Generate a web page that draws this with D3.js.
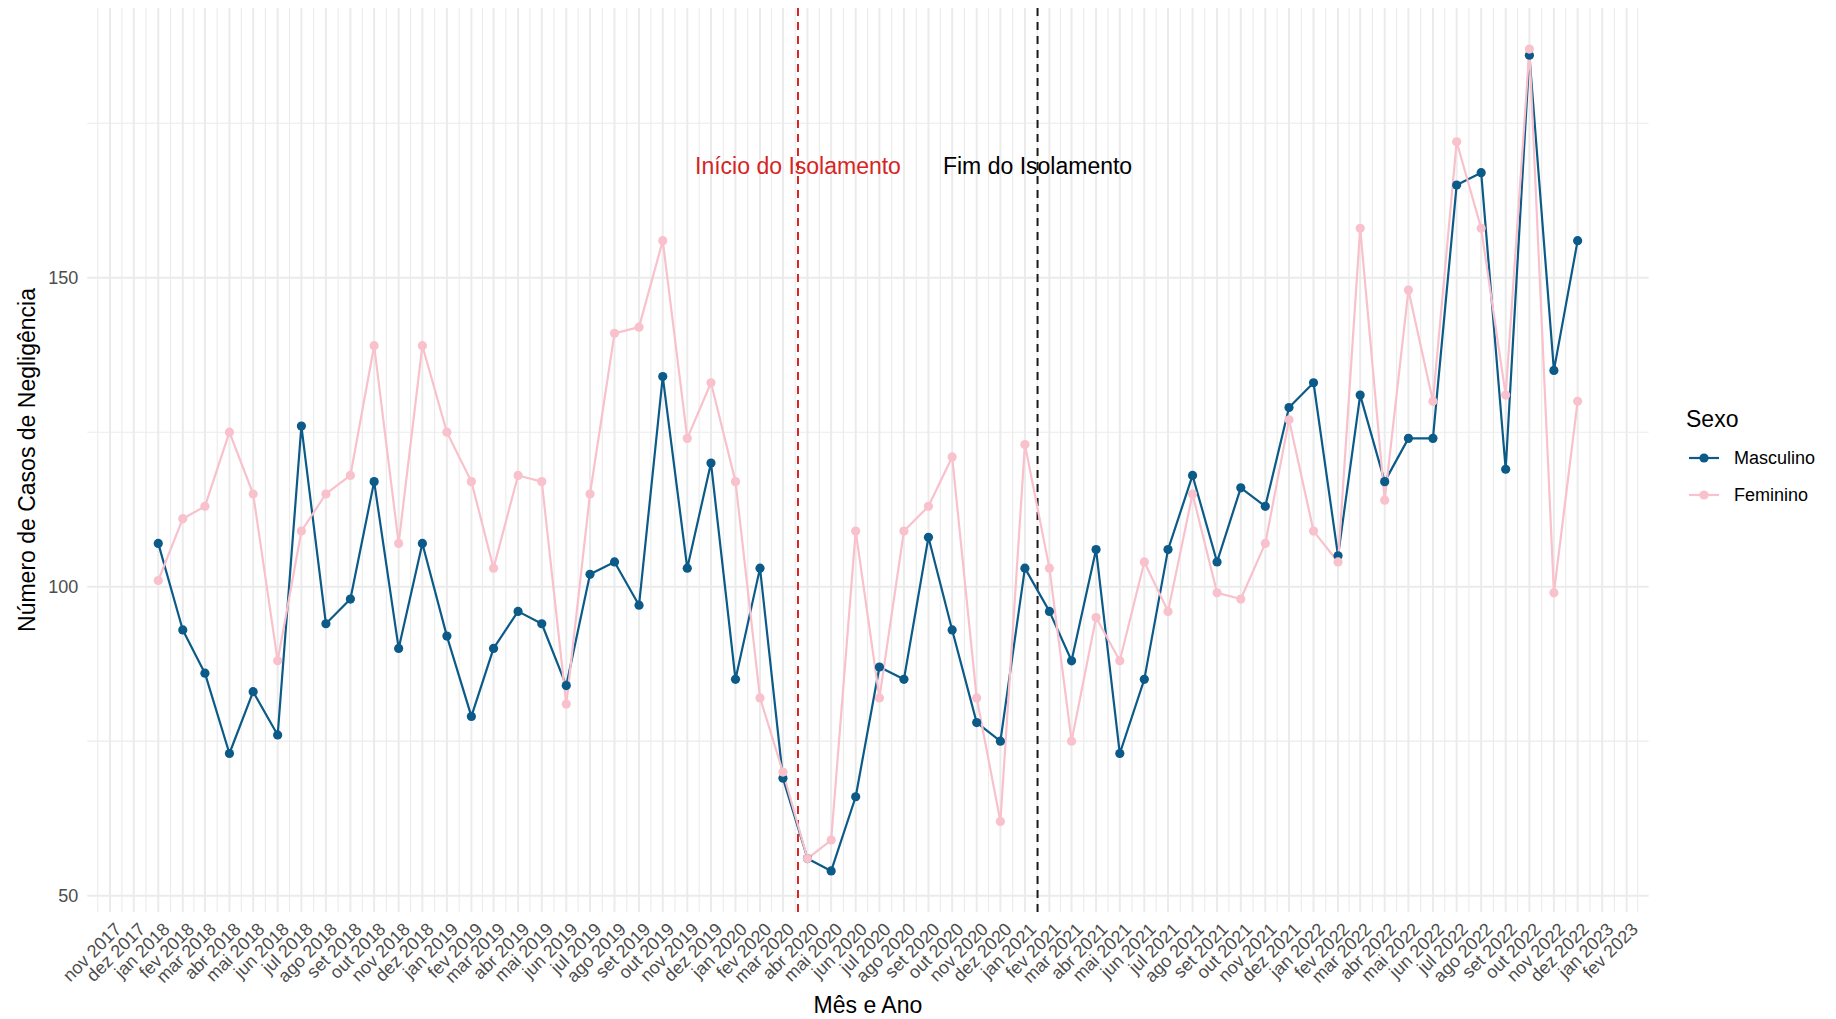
<!DOCTYPE html>
<html>
<head>
<meta charset="utf-8">
<script src="https://d3js.org/d3.v7.min.js"></script>
<style>
  body { margin: 0; background: #fff; }
  text { font-family: "Liberation Sans", Arial, sans-serif; }
</style>
</head>
<body>
<div id="chart"></div>
<script>
// nomes dos meses usados nos rotulos do eixo x
const mesesPt = ["jan", "fev", "mar", "abr", "mai", "jun", "jul", "ago", "set", "out", "nov", "dez"];
const primeiroMes = "2018-01-01";   // uma observacao por mes a partir daqui

const sexos = ["Masculino", "Feminino"];

// jan/2018 ... dez/2022
const masculino = [
  107, 93, 86, 73, 83, 76, 126, 94, 98, 117, 90, 107,
  92, 79, 90, 96, 94, 84, 102, 104, 97, 134, 103, 120,
  85, 103, 69, 56, 54, 66, 87, 85, 108, 93, 78, 75,
  103, 96, 88, 106, 73, 85, 106, 118, 104, 116, 113, 129,
  133, 105, 131, 117, 124, 124, 165, 167, 119, 186, 135, 156
];
const feminino = [
  101, 111, 113, 125, 115, 88, 109, 115, 118, 139, 107, 139,
  125, 117, 103, 118, 117, 81, 115, 141, 142, 156, 124, 133,
  117, 82, 70, 56, 59, 109, 82, 109, 113, 121, 82, 62,
  123, 103, 75, 95, 88, 104, 96, 115, 99, 98, 107, 127,
  109, 104, 158, 114, 148, 130, 172, 158, 131, 187, 99, 130
];

const marcosDatas = ["2020-03-20", "2021-01-17"];
const marcosRotulos = ["Início do Isolamento", "Fim do Isolamento"];
const rotuloY = 168;

const yTicks = [50, 100, 150];
const yMinor = [75, 125, 175];

const width = 1836, height = 1019;
const pLeft = 87.3, pRight = 1648.6, pTop = 8, pBottom = 912;
const cores = { Masculino: "#0b5a87", Feminino: "#f8c1cc" };

const parse = d3.timeParse("%Y-%m-%d");
const t0 = parse(primeiroMes);
const datas = d3.timeMonth.range(t0, d3.timeMonth.offset(t0, masculino.length));

const series = [
  { nome: sexos[0], valores: masculino },
  { nome: sexos[1], valores: feminino }
].map(s => ({ nome: s.nome, pts: s.valores.map((v, i) => ({ data: datas[i], v: v })) }));

// expansao de 5% como no ggplot
const tExt = d3.extent(datas);
const tPad = (tExt[1] - tExt[0]) * 0.05;
const x = d3.scaleTime()
  .domain([new Date(+tExt[0] - tPad), new Date(+tExt[1] + tPad)])
  .range([pLeft, pRight]);

const vExt = d3.extent(masculino.concat(feminino));
const vPad = (vExt[1] - vExt[0]) * 0.05;
const y = d3.scaleLinear()
  .domain([vExt[0] - vPad, vExt[1] + vPad])
  .range([pBottom, pTop]);

const svg = d3.select("#chart").append("svg")
  .attr("width", width)
  .attr("height", height);

svg.append("rect").attr("width", width).attr("height", height).attr("fill", "#fff");

// grade
const dom = x.domain();
const majorX = d3.timeMonth.range(d3.timeMonth.ceil(dom[0]), dom[1]);
const ext = [d3.timeMonth.offset(majorX[0], -1)].concat(majorX, [d3.timeMonth.offset(majorX[majorX.length - 1], 1)]);
const minorX = [];
for (let i = 0; i < ext.length - 1; i++) {
  const m = new Date((+ext[i] + +ext[i + 1]) / 2);
  if (m >= dom[0] && m <= dom[1]) minorX.push(m);
}

const grid = svg.append("g");
grid.selectAll(".vmin").data(minorX).enter().append("line")
  .attr("x1", d => x(d)).attr("x2", d => x(d))
  .attr("y1", pTop).attr("y2", pBottom)
  .attr("stroke", "#ebebeb").attr("stroke-width", 1.1);
grid.selectAll(".hmin").data(yMinor).enter().append("line")
  .attr("x1", pLeft).attr("x2", pRight)
  .attr("y1", d => y(d)).attr("y2", d => y(d))
  .attr("stroke", "#ebebeb").attr("stroke-width", 1.1);
grid.selectAll(".vmaj").data(majorX).enter().append("line")
  .attr("x1", d => x(d)).attr("x2", d => x(d))
  .attr("y1", pTop).attr("y2", pBottom)
  .attr("stroke", "#ebebeb").attr("stroke-width", 2);
grid.selectAll(".hmaj").data(yTicks).enter().append("line")
  .attr("x1", pLeft).attr("x2", pRight)
  .attr("y1", d => y(d)).attr("y2", d => y(d))
  .attr("stroke", "#ebebeb").attr("stroke-width", 2);

// eixos (sem linha nem marcas, como theme_minimal)
const fmt = d => mesesPt[d.getMonth()] + " " + d.getFullYear();
const xAxis = svg.append("g")
  .attr("transform", `translate(0,${pBottom})`)
  .call(d3.axisBottom(x).tickValues(majorX).tickFormat(fmt).tickSize(0));
xAxis.select(".domain").remove();
xAxis.selectAll("text")
  .attr("fill", "#4d4d4d")
  .style("font-size", "18px")
  .attr("text-anchor", "end")
  .attr("x", 4)
  .attr("y", 0)
  .attr("dy", "0.72em")
  .attr("transform", "translate(0,12) rotate(-45)");

const yAxis = svg.append("g")
  .attr("transform", `translate(${pLeft},0)`)
  .call(d3.axisLeft(y).tickValues(yTicks).tickSize(0).tickPadding(9));
yAxis.select(".domain").remove();
yAxis.selectAll("text").attr("fill", "#4d4d4d").style("font-size", "18px");

// linhas de referencia
marcosDatas.forEach((d, i) => {
  const xx = x(parse(d));
  const cor = i === 0 ? "#d62424" : "#1a1a1a";
  svg.append("line")
    .attr("x1", xx).attr("x2", xx).attr("y1", pTop).attr("y2", pBottom)
    .attr("stroke", cor).attr("stroke-width", 2)
    .attr("stroke-dasharray", "8,6");
  svg.append("text")
    .attr("x", xx).attr("y", y(rotuloY))
    .attr("text-anchor", "middle").attr("dominant-baseline", "central")
    .attr("fill", i === 0 ? "#d62424" : "#000")
    .style("font-size", "23px")
    .text(marcosRotulos[i]);
});

// series
const line = d3.line().x(d => x(d.data)).y(d => y(d.v));
series.forEach(s => {
  svg.append("path").datum(s.pts)
    .attr("d", line)
    .attr("fill", "none")
    .attr("stroke", cores[s.nome])
    .attr("stroke-width", 2.2)
    .attr("stroke-linejoin", "round");
});
series.forEach(s => {
  svg.append("g").selectAll("circle").data(s.pts).enter().append("circle")
    .attr("cx", d => x(d.data)).attr("cy", d => y(d.v))
    .attr("r", 4.6)
    .attr("fill", cores[s.nome]);
});

// titulos
svg.append("text")
  .attr("x", (pLeft + pRight) / 2).attr("y", 1005)
  .attr("text-anchor", "middle").attr("dominant-baseline", "central")
  .style("font-size", "23px").text("Mês e Ano");
svg.append("text")
  .attr("transform", `translate(27,${(pTop + pBottom) / 2}) rotate(-90)`)
  .attr("text-anchor", "middle").attr("dominant-baseline", "central")
  .style("font-size", "23px").text("Número de Casos de Negligência");

// legenda
const leg = svg.append("g").attr("transform", "translate(1686,0)");
leg.append("text").attr("x", 0).attr("y", 419)
  .attr("dominant-baseline", "central")
  .style("font-size", "23px").text("Sexo");
sexos.forEach((s, i) => {
  const yy = 458 + i * 37;
  leg.append("line").attr("x1", 3).attr("x2", 33).attr("y1", yy).attr("y2", yy)
    .attr("stroke", cores[s]).attr("stroke-width", 2.2);
  leg.append("circle").attr("cx", 18).attr("cy", yy).attr("r", 4.6).attr("fill", cores[s]);
  leg.append("text").attr("x", 48).attr("y", yy)
    .attr("dominant-baseline", "central")
    .style("font-size", "18px").text(s);
});
</script>
</body>
</html>
